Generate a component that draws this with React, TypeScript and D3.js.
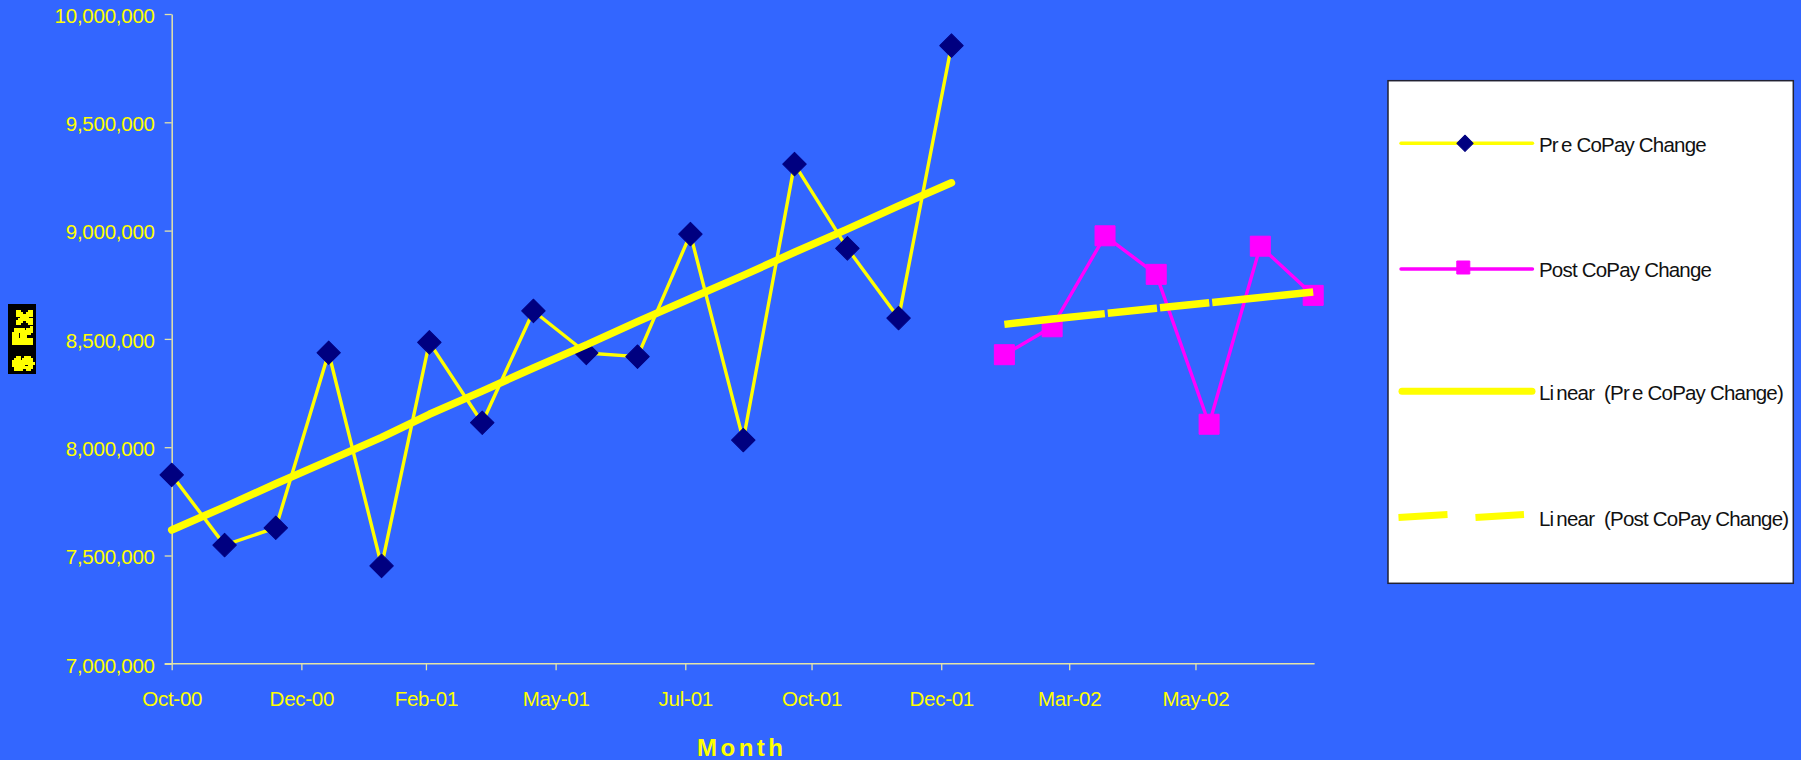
import React, { useEffect, useRef } from "react";
import * as d3 from "d3";

// Monthly prescription spend, split at the co-pay change.
const preMonths = ["2000-10-01","2000-11-01","2000-12-01","2001-01-01","2001-02-01","2001-03-01","2001-04-01","2001-05-01","2001-06-01","2001-07-01","2001-08-01","2001-09-01","2001-10-01","2001-11-01","2001-12-01","2002-01-01"];
const preValues = [7872000,7548000,7628000,8436000,7452000,8484000,8113000,8629000,8435000,8418000,8984000,8033000,9307000,8918000,8596000,9854000];
const postMonths = ["2002-02-01","2002-03-01","2002-04-01","2002-05-01","2002-06-01","2002-07-01","2002-08-01"];
const postValues = [8427000,8556000,8976000,8798000,8106000,8928000,8701000];
const yTicks = [7000000,7500000,8000000,8500000,9000000,9500000,10000000];
const xTickDates = ["2000-10-01","2000-12-16","2001-02-27","2001-05-14","2001-07-29","2001-10-11","2001-12-26","2002-03-11","2002-05-24"];
const legendLabels = ["Pre CoPay Change","Post CoPay Change","Linear (Pre CoPay Change)","Linear (Post CoPay Change)"];

const BLUE = "#3366ff";
const YELLOW = "#ffff00";
const NAVY = "#000080";
const MAGENTA = "#ff00ff";
const AXIS = "#e4e4a8";
const FONT = "'Liberation Sans', Arial, sans-serif";

const toDate = (s: string) => new Date(s + "T00:00:00Z");

const x = d3.scaleUtc().domain([toDate("2000-10-01"), toDate("2002-08-01")]).range([171.7, 1313.2]);
const y = d3.scaleLinear().domain([7000000, 10000000]).range([663.8, 14]);

const pre = preMonths.map((m, i) => ({ date: toDate(m), value: preValues[i] }));
const post = postMonths.map((m, i) => ({ date: toDate(m), value: postValues[i] }));

// Ordinary least squares on the month index, as a spreadsheet's linear trendline does.
function linearTrend(rows: { date: Date; value: number }[]) {
  const meanI = (rows.length - 1) / 2;
  const meanV = d3.mean(rows, (r) => r.value) as number;
  const num = d3.sum(rows, (r, i) => (i - meanI) * (r.value - meanV));
  const den = d3.sum(rows, (_, i) => (i - meanI) ** 2);
  const slope = num / den;
  return rows.map((r, i) => ({ date: r.date, value: meanV + slope * (i - meanI) }));
}

const line = d3
  .line<{ date: Date; value: number }>()
  .x((d) => x(d.date))
  .y((d) => y(d.value));

const diamond = d3.symbol().type(d3.symbolSquare).size(16.6 * 16.6)();
const square = d3.symbol().type(d3.symbolSquare).size(20 * 20)();
const legendDiamond = d3.symbol().type(d3.symbolSquare).size(11.5 * 11.5)();
const legendSquare = d3.symbol().type(d3.symbolSquare).size(13 * 13)();

// Adds the wider letter gaps this chart's legend type shows around "Pr|e" and "L|i|near".
function LegendText({ label, yPos }: { label: string; yPos: number }) {
  const parts = label.split(/(?<=Pr)|(?<=Li)|(?<=Linear )/);
  return (
    <text x={1539} y={yPos} fontSize={20.5} fontFamily={FONT} fill="#111" letterSpacing={-0.8}>
      {parts.map((p, i) => (
        <tspan key={i} dx={i === 0 ? 0 : p.startsWith("(") ? 5 : 3}>{p}</tspan>
      ))}
    </text>
  );
}

export default function App() {
  const xAxisRef = useRef<SVGGElement>(null);
  const yAxisRef = useRef<SVGGElement>(null);

  useEffect(() => {
    const style = (sel: d3.Selection<SVGGElement, unknown, null, undefined>) => {
      sel.selectAll("path").attr("stroke", AXIS).attr("stroke-width", 1.5);
      sel.selectAll("line").attr("stroke", AXIS).attr("stroke-width", 1.3);
      sel
        .selectAll("text")
        .attr("fill", YELLOW)
        .attr("font-size", 20.5)
        .attr("letter-spacing", -0.25)
        .attr("font-family", FONT);
    };
    const xAxis = d3
      .axisBottom(x)
      .tickValues(xTickDates.map(toDate))
      .tickFormat((d) => d3.utcFormat("%b-%y")(d as Date))
      .tickSize(7)
      .tickSizeOuter(0)
      .tickPadding(21.5);
    const yAxis = d3
      .axisLeft(y)
      .tickValues(yTicks)
      .tickFormat((d) => d3.format(",")(d as number))
      .tickSize(7)
      .tickSizeOuter(0)
      .tickPadding(10);
    const gx = d3.select(xAxisRef.current as SVGGElement).call(xAxis);
    const gy = d3.select(yAxisRef.current as SVGGElement).call(yAxis);
    style(gx);
    style(gy);
    gx.select("path").attr("d", "M164.7,0.5H1314.6");
    gy.selectAll("text").attr("dy", "0.4em");
  }, []);

  const rowLines = [143.3, 269, 391.3, 515];
  const rowText = [151.7, 277.3, 400, 525.7];

  return (
    <svg
      width={1801}
      height={760}
      style={{ position: "absolute", left: 0, top: 0, display: "block", background: BLUE }}
    >
      <defs>
        {/* Coarse 2px cells for the measure label */}
        <filter
          id="blocky"
          filterUnits="userSpaceOnUse"
          primitiveUnits="userSpaceOnUse"
          x={8}
          y={304}
          width={28}
          height={70}
          colorInterpolationFilters="sRGB"
        >
          <feFlood x={9} y={305} width={1} height={1} floodColor="#000" />
          <feComposite x={8} y={304} width={2} height={2} />
          <feTile x={8} y={304} width={28} height={70} result="cells" />
          <feComposite in="SourceGraphic" in2="cells" operator="in" />
          <feMorphology operator="dilate" radius={1} />
          <feComponentTransfer>
            <feFuncA type="discrete" tableValues="0 1 1" />
          </feComponentTransfer>
        </filter>
      </defs>
      <rect width={1801} height={760} fill={BLUE} />

      <g ref={yAxisRef} transform="translate(171.7,0)" />
      <g ref={xAxisRef} transform="translate(0,663.3)" />

      {/* Rotated measure label on its black plate */}
      <rect x={8} y={304} width={28} height={70} fill="#000" />
      <g filter="url(#blocky)">
        <text
          transform="translate(32,371) rotate(-90)"
          fontFamily={FONT}
          fontWeight={700}
          fontSize={25}
          letterSpacing={2.5}
          fill={YELLOW}
          stroke={YELLOW}
          strokeWidth={1.4}
        >
          $ Rx
        </text>
      </g>

      <text
        x={697}
        y={756}
        fontFamily={FONT}
        fontWeight={700}
        fontSize={24}
        letterSpacing={3.5}
        fill={YELLOW}
      >
        Month
      </text>

      {/* Monthly series */}
      <path d={line(pre) as string} fill="none" stroke={YELLOW} strokeWidth={3.4} strokeLinejoin="round" />
      {pre.map((d, i) => (
        <path
          key={i}
          d={diamond as string}
          transform={`translate(${x(d.date)},${y(d.value)}) rotate(45)`}
          fill={NAVY}
          stroke={NAVY}
          strokeWidth={1}
          strokeLinejoin="round"
        />
      ))}
      <path d={line(post) as string} fill="none" stroke={MAGENTA} strokeWidth={3.4} strokeLinejoin="round" />
      {post.map((d, i) => (
        <path
          key={i}
          d={square as string}
          transform={`translate(${x(d.date)},${y(d.value)})`}
          fill={MAGENTA}
          stroke={MAGENTA}
          strokeWidth={1}
          strokeLinejoin="round"
        />
      ))}

      {/* Linear trends */}
      <path
        d={line(linearTrend(pre)) as string}
        fill="none"
        stroke={YELLOW}
        strokeWidth={7.5}
        strokeLinecap="round"
        strokeLinejoin="round"
      />
      <path
        d={line(linearTrend(post)) as string}
        fill="none"
        stroke={YELLOW}
        strokeWidth={7.5}
        strokeDasharray="101 3 49.5 3 49.5 3 110"
      />

      {/* Legend */}
      <rect x={1388} y={80.7} width={405.3} height={502.6} fill="#fff" stroke="#223" strokeWidth={1.5} />
      <line x1={1401} x2={1532.5} y1={rowLines[0]} y2={rowLines[0]} stroke={YELLOW} strokeWidth={3.4} strokeLinecap="round" />
      <path
        d={legendDiamond as string}
        transform={`translate(1465,${rowLines[0]}) rotate(45)`}
        fill={NAVY}
        stroke={NAVY}
        strokeWidth={1}
        strokeLinejoin="round"
      />
      <line x1={1401} x2={1532.5} y1={rowLines[1]} y2={rowLines[1]} stroke={MAGENTA} strokeWidth={3.4} strokeLinecap="round" />
      <path
        d={legendSquare as string}
        transform={`translate(1463.3,${rowLines[1] - 1.5})`}
        fill={MAGENTA}
        stroke={MAGENTA}
        strokeWidth={1}
        strokeLinejoin="round"
      />
      <line x1={1402} x2={1532} y1={rowLines[2]} y2={rowLines[2]} stroke={YELLOW} strokeWidth={7} strokeLinecap="round" />
      <line x1={1398.5} x2={1447.5} y1={517.5} y2={514.5} stroke={YELLOW} strokeWidth={7} />
      <line x1={1475.5} x2={1524} y1={517.5} y2={514.5} stroke={YELLOW} strokeWidth={7} />
      {legendLabels.map((label, i) => (
        <LegendText key={label} label={label} yPos={rowText[i]} />
      ))}
    </svg>
  );
}
